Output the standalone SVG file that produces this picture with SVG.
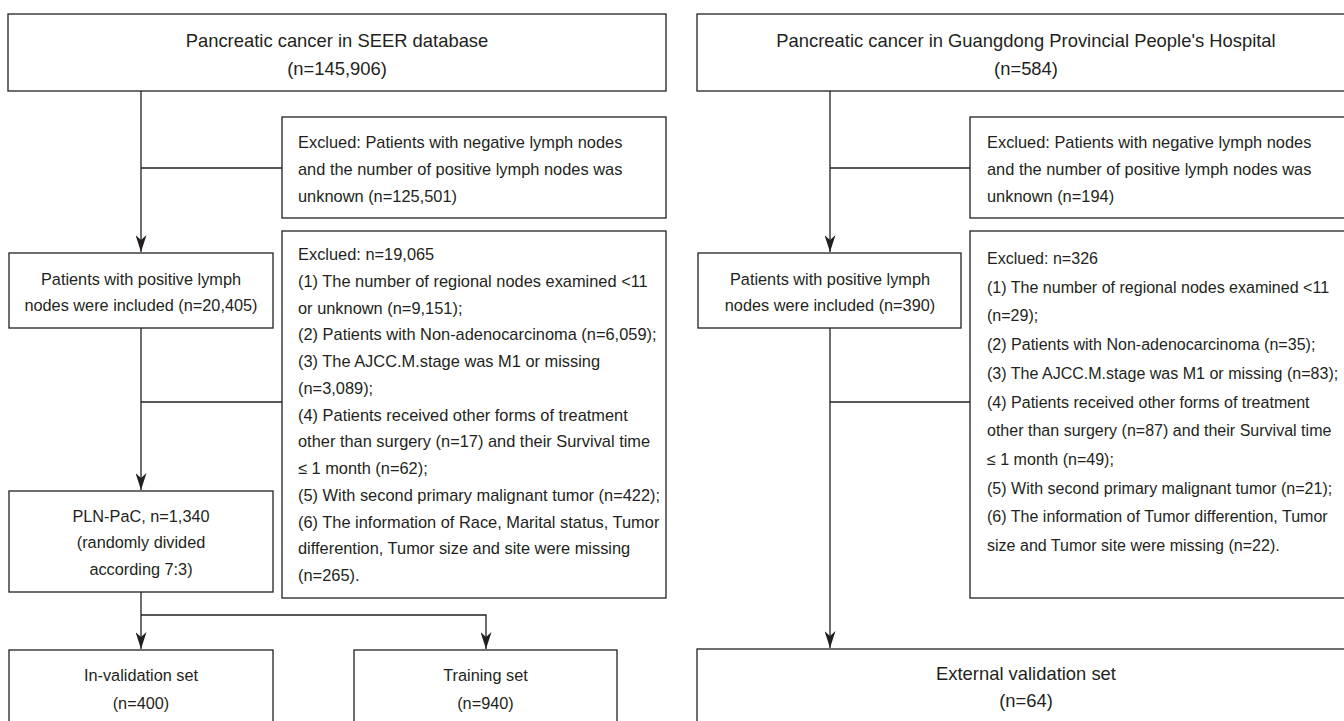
<svg xmlns="http://www.w3.org/2000/svg" width="1344" height="721" viewBox="0 0 1344 721">
<style>
.box{fill:#fff;stroke:#231f20;stroke-width:1.3}
.ln{fill:none;stroke:#231f20;stroke-width:1.3}
text{font-family:"Liberation Sans",Arial,sans-serif;fill:#231f20}
.t{font-size:18.4px;text-anchor:middle}
.m{font-size:16.3px;text-anchor:middle}
.e{font-size:16.4px}
.r{font-size:16.05px}
</style>
<defs>
<marker id="ah" markerUnits="userSpaceOnUse" viewBox="0 0 17 11" refX="17" refY="5.5" markerWidth="17" markerHeight="11" orient="auto">
<path d="M0,0 L17,5.5 L0,11 L5,5.5 Z" fill="#231f20"/>
</marker>
</defs>
<rect width="1344" height="721" fill="#fff"/>
<g id="connectors">
<path class="ln" d="M141,91 V252" marker-end="url(#ah)"/>
<path class="ln" d="M141,168 H282"/>
<path class="ln" d="M141,328 V490" marker-end="url(#ah)"/>
<path class="ln" d="M141,402 H282"/>
<path class="ln" d="M141,592 V649" marker-end="url(#ah)"/>
<path class="ln" d="M141,615 H486 V649" marker-end="url(#ah)"/>
<path class="ln" d="M830,91 V252" marker-end="url(#ah)"/>
<path class="ln" d="M830,168 H970"/>
<path class="ln" d="M830,328 V648" marker-end="url(#ah)"/>
<path class="ln" d="M830,402 H970"/>
</g>
<g id="seer">
<rect class="box" x="8" y="14" width="658" height="77"/>
<text class="t" x="337" y="47">Pancreatic cancer in SEER database</text>
<text class="t" x="337" y="75">(n=145,906)</text>
</g>
<g id="seer-excl1">
<rect class="box" x="282" y="117" width="384" height="101"/>
<text class="e" x="298" y="148">Exclued: Patients with negative lymph nodes</text>
<text class="e" x="298" y="175">and the number of positive lymph nodes was</text>
<text class="e" x="298" y="202">unknown (n=125,501)</text>
</g>
<g id="seer-positive">
<rect class="box" x="9" y="253" width="264" height="75"/>
<text class="m" x="141" y="285">Patients with positive lymph</text>
<text class="m" x="141" y="311">nodes were included (n=20,405)</text>
</g>
<g id="seer-excl2">
<rect class="box" x="282" y="231" width="384" height="367"/>
<text class="e" x="298" y="260">Exclued: n=19,065</text>
<text class="e" x="298" y="286.8">(1) The number of regional nodes examined &lt;11</text>
<text class="e" x="298" y="313.5">or unknown (n=9,151);</text>
<text class="e" x="298" y="340.3">(2) Patients with Non-adenocarcinoma (n=6,059);</text>
<text class="e" x="298" y="367">(3) The AJCC.M.stage was M1 or missing</text>
<text class="e" x="298" y="393.8">(n=3,089);</text>
<text class="e" x="298" y="420.5">(4) Patients received other forms of treatment</text>
<text class="e" x="298" y="447.3">other than surgery (n=17) and their Survival time</text>
<text class="e" x="298" y="474">≤ 1 month (n=62);</text>
<text class="e" x="298" y="500.8">(5) With second primary malignant tumor (n=422);</text>
<text class="e" x="298" y="527.5">(6) The information of Race, Marital status, Tumor</text>
<text class="e" x="298" y="554.3">differention, Tumor size and site were missing</text>
<text class="e" x="298" y="581">(n=265).</text>
</g>
<g id="plnpac">
<rect class="box" x="9" y="491" width="264" height="101"/>
<text class="m" x="141" y="522">PLN-PaC, n=1,340</text>
<text class="m" x="141" y="548">(randomly divided</text>
<text class="m" x="141" y="575">according 7:3)</text>
</g>
<g id="invalidation">
<rect class="box" x="9" y="650" width="264" height="90"/>
<text class="m" x="141" y="681">In-validation set</text>
<text class="m" x="141" y="709">(n=400)</text>
</g>
<g id="training">
<rect class="box" x="354" y="650" width="263" height="90"/>
<text class="m" x="485.5" y="681">Training set</text>
<text class="m" x="485.5" y="709">(n=940)</text>
</g>
<g id="gdph">
<rect class="box" x="697" y="14" width="658" height="77"/>
<text class="t" x="1026" y="47">Pancreatic cancer in Guangdong Provincial People's Hospital</text>
<text class="t" x="1026" y="75">(n=584)</text>
</g>
<g id="gdph-excl1">
<rect class="box" x="970" y="117" width="385" height="101"/>
<text class="e" x="987" y="148">Exclued: Patients with negative lymph nodes</text>
<text class="e" x="987" y="175">and the number of positive lymph nodes was</text>
<text class="e" x="987" y="202">unknown (n=194)</text>
</g>
<g id="gdph-positive">
<rect class="box" x="698" y="253" width="263" height="75"/>
<text class="m" x="830" y="285">Patients with positive lymph</text>
<text class="m" x="830" y="311">nodes were included (n=390)</text>
</g>
<g id="gdph-excl2">
<rect class="box" x="970" y="231" width="385" height="367"/>
<text class="r" x="987" y="264">Exclued: n=326</text>
<text class="r" x="987" y="292.7">(1) The number of regional nodes examined &lt;11</text>
<text class="r" x="987" y="321.4">(n=29);</text>
<text class="r" x="987" y="350.1">(2) Patients with Non-adenocarcinoma (n=35);</text>
<text class="r" x="987" y="378.8">(3) The AJCC.M.stage was M1 or missing (n=83);</text>
<text class="r" x="987" y="407.5">(4) Patients received other forms of treatment</text>
<text class="r" x="987" y="436.2">other than surgery (n=87) and their Survival time</text>
<text class="r" x="987" y="464.9">≤ 1 month (n=49);</text>
<text class="r" x="987" y="493.6">(5) With second primary malignant tumor (n=21);</text>
<text class="r" x="987" y="522.3">(6) The information of Tumor differention, Tumor</text>
<text class="r" x="987" y="551">size and Tumor site were missing (n=22).</text>
</g>
<g id="external">
<rect class="box" x="697" y="649" width="658" height="90"/>
<text class="t" x="1026" y="680">External validation set</text>
<text class="t" x="1026" y="707">(n=64)</text>
</g>
</svg>
